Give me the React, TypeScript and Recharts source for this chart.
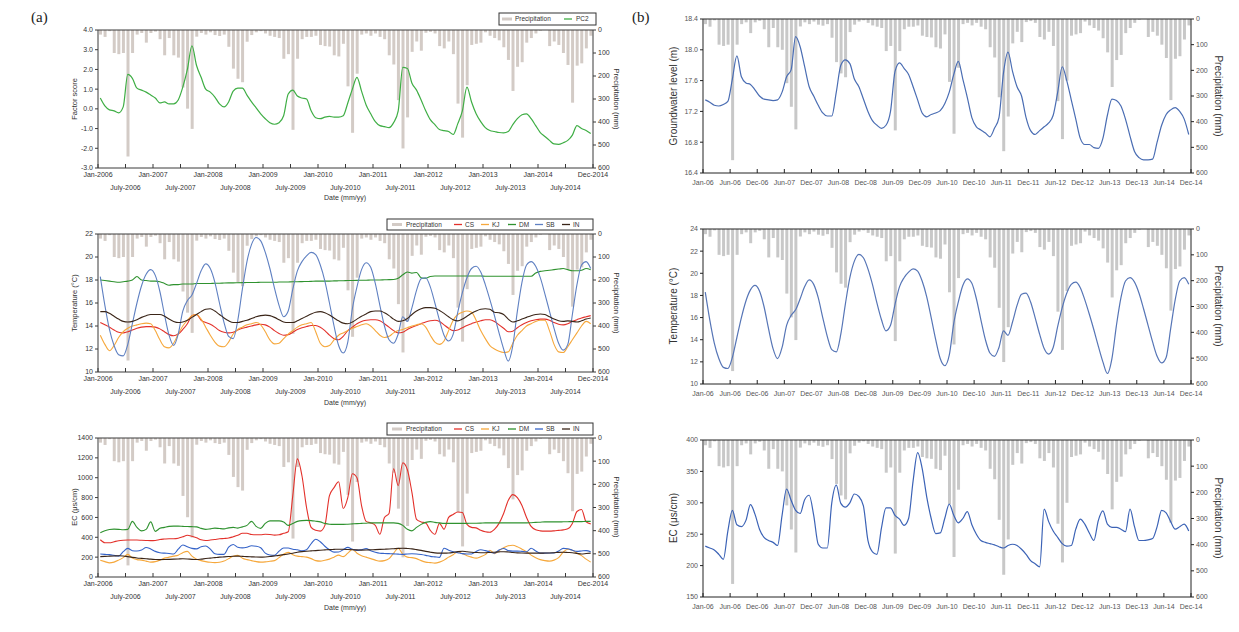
import React from 'react'
import { ComposedChart, Bar, Line, XAxis, YAxis, ReferenceLine } from 'recharts'

// monthly values, Jan 2006 .. Dec 2014 (one row per year)
const precipitation = [
  20, 30, 5, 100, 105, 100, 550, 100, 20, 13, 55, 13,
  7, 40, 110, 35, 110, 120, 250, 342, 430, 29, 13, 20,
  10, 22, 26, 20, 73, 168, 212, 227, 51, 22, 10, 5,
  15, 25, 30, 35, 125, 105, 434, 125, 40, 30, 30, 25,
  65, 70, 72, 110, 115, 60, 245, 447, 190, 20, 15, 25,
  15, 30, 40, 110, 150, 305, 515, 380, 95, 50, 90, 12,
  8, 15, 70, 80, 50, 105, 320, 468, 240, 65, 60, 55,
  10, 25, 35, 45, 75, 130, 265, 160, 140, 55, 35, 15,
  3, 0, 70, 50, 65, 100, 152, 316, 155, 145, 80, 25,
]

const pc2 = [
  0.55, 0.15, -0.05, -0.1, -0.2, 0.1, 1.75, 1.55, 1.05, 0.95, 0.85, 0.7,
  0.55, 0.3, 0.35, 0.25, 0.25, 0.45, 1.1, 2.0, 3.2, 2.2, 1.6, 1.0,
  0.85, 0.6, 0.25, 0.1, 0.35, 0.9, 1.05, 1.05, 0.7, 0.35, 0.05, -0.25,
  -0.5, -0.7, -0.78, -0.7, -0.35, 0.75, 0.95, 0.65, 0.55, 0.5, -0.1, -0.45,
  -0.5, -0.42, -0.38, -0.42, -0.42, -0.35, 0.3, 1.0, 1.6, 0.9, 0.2, -0.25,
  -0.65, -0.85, -0.9, -0.95, -0.7, -0.1, 2.1, 2.05, 1.3, 0.95, 0.45, -0.1,
  -0.55, -0.8, -1.05, -1.1, -1.15, -1.3, -0.75, -0.1, 1.1, 0.35, -0.25, -0.65,
  -0.95, -1.1, -1.15, -1.2, -1.22, -1.15, -0.8, -0.5, -0.3, -0.25, -0.5, -0.85,
  -1.2, -1.4, -1.6, -1.78, -1.8, -1.72, -1.6, -1.33, -0.85, -1.0, -1.1, -1.25,
]

const tempCS = [
  14.3, 14.1, 13.9, 13.65, 13.45, 13.4, 13.5, 13.65, 13.8, 13.9, 13.95, 13.95,
  13.9, 13.75, 13.5, 13.25, 13.15, 13.3, 13.7, 14.2, 14.9, 15.0, 14.5, 14.3,
  14.15, 13.9, 13.6, 13.45, 13.4, 13.45, 13.65, 13.8, 13.9, 14.0, 14.1, 14.15,
  14.1, 13.9, 13.6, 13.35, 13.2, 13.25, 13.45, 13.7, 13.85, 13.95, 14.05, 14.05,
  13.9, 13.6, 13.2, 12.9, 12.8, 13.1, 13.6, 13.9, 14.2, 14.4, 14.5, 14.55,
  14.55, 14.45, 14.2, 13.9, 13.6, 13.4, 13.45, 13.7, 13.9, 14.05, 14.2, 14.35,
  14.45, 14.5, 14.4, 14.1, 13.8, 13.6, 13.65, 13.85, 14.05, 14.2, 14.35, 14.45,
  14.55, 14.55, 14.4, 14.1, 13.8, 13.5, 13.55, 13.85, 14.1, 14.3, 14.45, 14.55,
  14.6, 14.6, 14.5, 14.3, 14.15, 14.1, 14.2, 14.4, 14.55, 14.7, 14.8, 14.9,
]

const tempKJ = [
  13.2, 12.4, 11.85, 12.3, 13.0, 13.5, 13.8, 14.0, 14.1, 14.2, 14.25, 14.2,
  13.6, 12.8, 12.2, 12.1, 12.5, 13.3, 14.0, 14.5, 14.9, 15.0, 14.6, 13.9,
  13.2, 12.6, 12.25, 12.2, 12.6, 13.3, 13.7, 13.9, 14.1, 14.2, 14.3, 14.1,
  13.5, 12.8, 12.45, 12.5, 12.9, 13.3, 13.6, 13.9, 14.1, 14.2, 14.3, 13.5,
  12.5, 12.2, 12.3, 12.8, 13.2, 13.4, 13.6, 13.8, 13.95, 14.1, 14.2, 14.0,
  13.6, 13.2, 13.0, 13.1, 13.4, 13.6, 13.7, 13.85, 14.0, 14.1, 14.2, 13.9,
  13.2, 12.6, 12.4, 12.7, 13.6, 14.5, 15.0, 15.2, 15.3, 15.2, 14.5, 13.6,
  12.9, 12.3, 12.0, 11.8, 11.7, 11.75, 12.5, 13.2, 13.6, 14.0, 14.2, 14.4,
  14.5, 14.5, 13.6, 12.4, 11.75, 11.7, 12.2, 12.8, 13.4, 14.0, 14.4, 14.2,
]

const tempDM = [
  18.0, 17.95, 17.9, 17.85, 17.8, 17.85, 17.9, 18.0, 18.3, 18.0, 17.95, 17.9,
  17.9, 17.85, 17.7, 17.55, 17.6, 17.6, 17.65, 17.65, 17.65, 17.7, 17.7, 17.7,
  17.7, 17.72, 17.72, 17.74, 17.75, 17.75, 17.76, 17.77, 17.78, 17.78, 17.78, 17.8,
  17.8, 17.8, 17.8, 17.82, 17.82, 17.83, 17.85, 17.85, 17.86, 17.87, 17.88, 17.9,
  17.9, 17.9, 17.9, 17.92, 17.93, 17.94, 17.95, 17.96, 17.97, 17.98, 17.98, 18.0,
  18.0, 18.0, 18.02, 18.03, 18.05, 18.15, 18.45, 18.7, 18.6, 18.65, 18.2, 18.15,
  18.3, 18.35, 18.35, 18.35, 18.35, 18.35, 18.35, 18.35, 18.35, 18.35, 18.35, 18.35,
  18.33, 18.33, 18.33, 18.33, 18.33, 18.33, 18.33, 18.33, 18.33, 18.33, 18.33, 18.6,
  18.75, 18.8, 18.85, 18.9, 18.95, 19.0, 18.9, 18.8, 18.8, 18.85, 19.0, 18.9,
]

const tempSB = [
  18.3, 15.8, 13.7, 12.3, 11.5, 11.4, 12.4, 14.2, 16.0, 17.5, 18.5, 18.9,
  18.4, 17.0, 15.0, 13.2, 12.3, 13.3, 15.3, 16.2, 16.7, 17.7, 18.8, 19.4,
  19.0, 17.8, 16.0, 14.3, 13.1, 12.9, 14.5, 17.2, 19.6, 21.1, 21.7, 21.4,
  20.4, 19.0, 17.3, 15.8, 14.8, 15.3, 17.2, 18.8, 19.6, 20.1, 20.4, 20.2,
  19.3, 17.9, 16.0, 14.0, 12.3, 11.65, 12.6, 15.5, 17.4, 18.9, 19.5, 19.1,
  17.7, 15.8, 14.0, 12.8, 12.5, 13.3, 14.8, 14.4, 15.6, 17.1, 18.1, 18.2,
  17.4, 16.0, 14.5, 13.2, 12.7, 13.3, 15.2, 16.9, 18.2, 19.0, 19.2, 18.7,
  17.6, 16.3, 14.9, 13.4, 12.0, 10.95, 12.3, 15.3, 17.8, 19.3, 19.6, 19.2,
  18.2, 16.8, 15.3, 13.8, 12.5, 11.9, 12.4, 15.0, 17.6, 19.3, 19.6, 19.0,
]

const tempIN = [
  15.25, 15.25, 15.1, 14.85, 14.6, 14.4, 14.35, 14.4, 14.55, 14.75, 14.9, 15.0,
  15.0, 15.0, 14.85, 14.6, 14.4, 14.3, 14.35, 14.5, 14.75, 15.0, 15.25, 15.45,
  15.5, 15.3, 15.0, 14.7, 14.45, 14.3, 14.3, 14.4, 14.5, 14.65, 14.8, 14.9,
  14.95, 14.9, 14.75, 14.55, 14.35, 14.3, 14.3, 14.45, 14.65, 14.85, 15.05, 15.2,
  15.25, 15.15, 14.95, 14.7, 14.45, 14.25, 14.2, 14.35, 14.6, 14.85, 15.05, 15.25,
  15.3, 15.3, 15.15, 14.9, 14.6, 14.4, 14.45, 14.65, 15.0, 15.3, 15.5, 15.6,
  15.6, 15.55, 15.35, 15.1, 14.8, 14.55, 14.45, 14.6, 14.85, 15.1, 15.3, 15.45,
  15.5, 15.45, 15.2, 15.15, 15.0, 14.6, 14.35, 14.45, 14.6, 14.75, 14.9, 15.0,
  15.05, 15.0, 14.8, 14.6, 14.45, 14.4, 14.45, 14.4, 14.35, 14.45, 14.6, 14.7,
]

const ecCS = [
  375, 345, 345, 355, 365, 370, 372, 372, 372, 370, 368, 366,
  368, 378, 382, 385, 385, 390, 405, 420, 410, 395, 375, 368,
  372, 378, 385, 388, 392, 405, 420, 440, 440, 428, 425, 425,
  430, 428, 422, 425, 440, 455, 820, 1190, 1020, 700, 500, 470,
  462, 520, 820, 900, 960, 690, 800, 1040, 1000, 720, 560, 545,
  520, 430, 600, 640, 1090, 920, 1150, 1080, 850, 580, 555, 545,
  470, 430, 540, 480, 600, 630, 655, 650, 530, 500, 495, 470,
  455, 450, 480, 540, 640, 770, 830, 800, 720, 600, 510, 475,
  465, 462, 462, 465, 470, 475, 485, 540, 660, 680, 555, 535,
]

const ecKJ = [
  168, 155, 142, 150, 170, 195, 228, 190, 175, 170, 160, 150,
  155, 170, 190, 200, 210, 220, 245, 258, 210, 180, 165, 155,
  148, 145, 148, 160, 185, 208, 218, 190, 175, 165, 155, 150,
  152, 158, 165, 195, 230, 248, 225, 210, 205, 200, 185, 165,
  160, 168, 180, 200, 220, 205, 240, 278, 240, 215, 200, 185,
  170, 160, 165, 185, 240, 290, 230, 200, 195, 185, 165, 150,
  145, 140, 150, 170, 200, 225, 255, 235, 215, 200, 190, 205,
  225, 270, 235, 265, 295, 315, 320, 305, 280, 255, 220, 195,
  175, 165, 160, 170, 195, 250, 280, 270, 240, 215, 180, 150,
]

const ecDM = [
  445, 465, 478, 482, 480, 476, 480, 560, 500, 465, 480, 555,
  460, 490, 500, 510, 512, 512, 510, 508, 507, 505, 490, 480,
  485, 492, 488, 485, 495, 500, 492, 505, 520, 560, 510, 490,
  540, 565, 565, 565, 555, 520, 540, 560, 568, 570, 568, 562,
  555, 540, 532, 530, 530, 530, 532, 535, 538, 540, 542, 545,
  545, 545, 545, 545, 545, 540, 520, 480, 465, 500, 530, 550,
  558, 550, 545, 540, 540, 540, 540, 540, 540, 542, 542, 543,
  545, 545, 545, 545, 545, 545, 545, 545, 545, 545, 547, 550,
  552, 555, 555, 555, 555, 556, 557, 558, 558, 558, 560, 560,
]

const ecSB = [
  231, 228, 225, 218, 210, 255, 288, 265, 262, 272, 297, 282,
  258, 245, 240, 237, 232, 280, 322, 304, 288, 283, 305, 312,
  280, 234, 228, 228, 300, 328, 299, 293, 300, 314, 310, 295,
  240, 222, 218, 260, 292, 292, 280, 274, 264, 275, 335, 380,
  355, 310, 275, 251, 252, 275, 298, 280, 268, 275, 286, 265,
  250, 240, 237, 235, 233, 230, 228, 232, 234, 232, 226, 218,
  208, 203, 198, 290, 270, 255, 245, 235, 231, 232, 258, 274,
  266, 252, 240, 272, 287, 266, 261, 261, 258, 254, 290, 262,
  240, 240, 241, 243, 262, 288, 284, 270, 258, 262, 266, 255,
]

const ecIN = [
  205, 208, 210, 212, 214, 212, 205, 198, 192, 188, 184, 180,
  177, 175, 176, 178, 180, 182, 184, 182, 178, 176, 180, 186,
  190, 195, 200, 203, 206, 209, 210, 208, 205, 203, 201, 200,
  202, 206, 212, 218, 225, 232, 240, 250, 256, 260, 263, 266,
  270, 273, 276, 278, 280, 279, 277, 275, 273, 271, 272, 274,
  276, 278, 280, 282, 285, 288, 290, 287, 283, 276, 268, 258,
  250, 243, 240, 240, 242, 248, 256, 260, 254, 250, 247, 245,
  245, 247, 250, 253, 255, 252, 247, 243, 241, 240, 240, 240,
  240, 241, 242, 244, 248, 250, 247, 244, 238, 232, 236, 240,
]

const gwLevel = [
  17.35, 17.32, 17.28, 17.27, 17.29, 17.33, 17.62, 17.92, 17.65, 17.57, 17.55, 17.48,
  17.4, 17.36, 17.35, 17.34, 17.35, 17.45, 17.65, 17.74, 18.17, 18.04, 17.78, 17.52,
  17.4, 17.28, 17.18, 17.14, 17.14, 17.45, 17.8, 17.87, 17.82, 17.62, 17.52, 17.36,
  17.2, 17.08, 17.02, 16.98, 17.02, 17.2, 17.72, 17.83, 17.76, 17.68, 17.52, 17.35,
  17.18, 17.13, 17.16, 17.18, 17.21, 17.3, 17.45, 17.68, 17.85, 17.62, 17.38, 17.12,
  17.0, 16.96, 16.92, 16.87, 16.98, 17.12, 17.7, 17.97, 17.72, 17.52, 17.4, 17.12,
  16.95, 16.9, 16.95, 17.0, 17.05, 17.15, 17.45, 17.78, 17.6, 17.35, 17.1, 16.85,
  16.77, 16.77, 16.73, 16.72, 16.85, 17.15, 17.36, 17.34, 17.27, 17.1, 16.88, 16.68,
  16.6, 16.57, 16.57, 16.58, 16.8, 17.02, 17.16, 17.22, 17.25, 17.2, 17.1, 16.9,
]

const xTicks = [0, 6, 12, 18, 24, 30, 36, 42, 48, 54, 60, 66, 72, 78, 84, 90, 96, 102, 108]
const aTickLabels = [
  'Jan-2006', 'July-2006', 'Jan-2007', 'July-2007', 'Jan-2008', 'July-2008', 'Jan-2009',
  'July-2009', 'Jan-2010', 'July-2010', 'Jan-2011', 'July-2011', 'Jan-2012', 'July-2012',
  'Jan-2013', 'July-2013', 'Jan-2014', 'July-2014', 'Dec-2014',
]
const bTickLabels = [
  'Jan-06', 'Jun-06', 'Dec-06', 'Jun-07', 'Dec-07', 'Jun-08', 'Dec-08', 'Jun-09', 'Dec-09',
  'Jun-10', 'Dec-10', 'Jun-11', 'Dec-11', 'Jun-12', 'Dec-12', 'Jun-13', 'Dec-13', 'Jun-14', 'Dec-14',
]
const precipTicks = [0, 100, 200, 300, 400, 500, 600]

const rows = precipitation.map((p, i) => ({
  t: i + 0.5,
  p,
  pc2: pc2[i],
  tCS: tempCS[i],
  tKJ: tempKJ[i],
  tDM: tempDM[i],
  tSB: tempSB[i],
  tIN: tempIN[i],
  eCS: ecCS[i],
  eKJ: ecKJ[i],
  eDM: ecDM[i],
  eSB: ecSB[i],
  eIN: ecIN[i],
  gw: gwLevel[i],
}))

const FONT = '"Liberation Sans", Arial, sans-serif'
const WL = 40
const WR = 40
const HX = 36
const MT = 4

type LineSpec = { key: string; color: string; width?: number }
type PanelSpec = {
  x0: number
  x1: number
  y0: number
  y1: number
  domain: [number, number]
  ticks: number[]
  fmt?: (v: number) => string
  lines: LineSpec[]
  kind: 'a' | 'b'
}

function Panel({ spec }: { spec: PanelSpec }) {
  const { x0, x1, y0, y1, kind } = spec
  const w = x1 - x0 + WL + WR
  const h = y1 - y0 + MT + HX
  const axisColor = kind === 'a' ? '#3a3a3a' : '#222'
  const tickColor = kind === 'a' ? '#333' : '#555'
  const labels = kind === 'a' ? aTickLabels : bTickLabels
  const barFill = kind === 'a' ? '#d3cbc6' : '#c8c8c8'

  const renderXTick = (props: any) => {
    const { x, y, payload } = props
    const label = labels[xTicks.indexOf(payload.value)]
    const dy = kind === 'a' ? (label.startsWith('July') ? 22 : 9) : 12
    return (
      <g>
        <line x1={x} x2={x} y1={y} y2={y - 4} stroke={axisColor} />
        <text x={x} y={y + dy} textAnchor="middle" fontSize={7} fill={tickColor} fontFamily={FONT}>
          {label}
        </text>
      </g>
    )
  }

  return (
    <div style={{ position: 'absolute', left: x0 - WL, top: y0 - MT }}>
      <ComposedChart width={w} height={h} data={rows} margin={{ top: MT, right: 0, bottom: 0, left: 0 }}>
        <XAxis
          dataKey="t"
          type="number"
          domain={[0, 108]}
          ticks={xTicks}
          interval={0}
          height={HX}
          tickSize={0}
          tickMargin={0}
          tickLine={false}
          axisLine={{ stroke: axisColor }}
          tick={renderXTick}
        />
        <YAxis
          yAxisId="v"
          width={WL}
          domain={spec.domain}
          ticks={spec.ticks}
          interval={0}
          allowDataOverflow
          tickFormatter={spec.fmt}
          tickSize={3}
          tickMargin={2}
          axisLine={{ stroke: axisColor }}
          tickLine={{ stroke: axisColor }}
          tick={{ fontSize: 7, fill: tickColor, fontFamily: FONT }}
        />
        <YAxis
          yAxisId="p"
          orientation="right"
          width={WR}
          reversed
          domain={[0, 600]}
          ticks={precipTicks}
          interval={0}
          tickSize={3}
          tickMargin={2}
          axisLine={{ stroke: axisColor }}
          tickLine={{ stroke: axisColor }}
          tick={{ fontSize: 7, fill: tickColor, fontFamily: FONT }}
        />
        <ReferenceLine yAxisId="p" y={0} stroke={axisColor} />
        <Bar yAxisId="p" dataKey="p" fill={barFill} barSize={3} isAnimationActive={false} />
        {spec.lines.map((l) => (
          <Line
            key={l.key}
            yAxisId="v"
            dataKey={l.key}
            type="monotone"
            stroke={l.color}
            strokeWidth={l.width ?? 1.1}
            dot={false}
            activeDot={false}
            isAnimationActive={false}
          />
        ))}
      </ComposedChart>
    </div>
  )
}

const fmt1 = (v: number) => v.toFixed(1)

const siteLines = (prefix: string, sb: string): LineSpec[] => [
  { key: prefix + 'CS', color: '#e3312b' },
  { key: prefix + 'KJ', color: '#f6a83c' },
  { key: prefix + 'DM', color: '#2f922f' },
  { key: prefix + 'SB', color: sb },
  { key: prefix + 'IN', color: '#3a2518' },
]

const panels: PanelSpec[] = [
  { kind: 'a', x0: 98, x1: 593, y0: 30, y1: 168, domain: [-3, 4], ticks: [-3, -2, -1, 0, 1, 2, 3, 4], fmt: fmt1, lines: [{ key: 'pc2', color: '#3fae45', width: 1.2 }] },
  { kind: 'a', x0: 98, x1: 593, y0: 234, y1: 372, domain: [10, 22], ticks: [10, 12, 14, 16, 18, 20, 22], lines: siteLines('t', '#5f80c2') },
  { kind: 'a', x0: 98, x1: 593, y0: 438, y1: 577, domain: [0, 1400], ticks: [0, 200, 400, 600, 800, 1000, 1200, 1400], lines: siteLines('e', '#3563c8') },
  { kind: 'b', x0: 703, x1: 1191, y0: 19, y1: 173, domain: [16.4, 18.4], ticks: [16.4, 16.8, 17.2, 17.6, 18.0, 18.4], fmt: fmt1, lines: [{ key: 'gw', color: '#4a6db3', width: 1.2 }] },
  { kind: 'b', x0: 703, x1: 1191, y0: 229, y1: 384, domain: [10, 24], ticks: [10, 12, 14, 16, 18, 20, 22, 24], lines: [{ key: 'tSB', color: '#5675b6', width: 1.2 }] },
  { kind: 'b', x0: 703, x1: 1191, y0: 440, y1: 597, domain: [150, 400], ticks: [150, 200, 250, 300, 350, 400], lines: [{ key: 'eSB', color: '#3c63b6', width: 1.2 }] },
]

type LegendItem = { label: string; color: string; bar?: boolean; sx: number; tx: number }

function Legend({ x, y, w, h, items }: { x: number; y: number; w: number; h: number; items: LegendItem[] }) {
  const cy = y + h / 2
  return (
    <g>
      <rect x={x} y={y} width={w} height={h} fill="#fff" stroke="#333" strokeWidth={1} />
      {items.map((it) => (
        <g key={it.label}>
          <line x1={it.sx} x2={it.sx + (it.bar ? 10 : 8)} y1={cy} y2={cy} stroke={it.color} strokeWidth={it.bar ? 3 : 1.3} />
          <text x={it.tx} y={cy + 2.4} fontSize={6.5} fill="#333" fontFamily={FONT}>
            {it.label}
          </text>
        </g>
      ))}
    </g>
  )
}

const siteLegend = (sb: string): LegendItem[] => [
  { label: 'Precipitation', color: '#d3cbc6', bar: true, sx: 392, tx: 406 },
  { label: 'CS', color: '#e3312b', sx: 454, tx: 465 },
  { label: 'KJ', color: '#f6a83c', sx: 481, tx: 492 },
  { label: 'DM', color: '#2f922f', sx: 508, tx: 519 },
  { label: 'SB', color: sb, sx: 535, tx: 546 },
  { label: 'IN', color: '#3a2518', sx: 562, tx: 573 },
]

function Annotations() {
  const vText = (label: string, x: number, y: number, angle: number, size: number) => (
    <text
      x={x}
      y={y}
      transform={`rotate(${angle} ${x} ${y})`}
      textAnchor="middle"
      dominantBaseline="central"
      fontSize={size}
      fill="#333"
      fontFamily={FONT}
    >
      {label}
    </text>
  )
  return (
    <svg width={1239} height={632} style={{ position: 'absolute', left: 0, top: 0, pointerEvents: 'none' }}>
      <text x={31} y={22} fontSize={15} fontFamily='"Liberation Serif", serif' fill="#222">(a)</text>
      <text x={632} y={22} fontSize={15} fontFamily='"Liberation Serif", serif' fill="#222">(b)</text>

      {vText('Factor score', 74, 99, -90, 7.5)}
      {vText('Temperature (°C)', 74, 303, -90, 7.5)}
      {vText('EC (μs/cm)', 74, 507, -90, 7.5)}
      {vText('Precipitation (mm)', 616, 99, 90, 7.5)}
      {vText('Precipitation (mm)', 616, 303, 90, 7.5)}
      {vText('Precipitation (mm)', 616, 507, 90, 7.5)}
      <text x={345} y={200} textAnchor="middle" fontSize={7} fill="#333" fontFamily={FONT}>Date (mm/yy)</text>
      <text x={345} y={405} textAnchor="middle" fontSize={7} fill="#333" fontFamily={FONT}>Date (mm/yy)</text>
      <text x={345} y={610} textAnchor="middle" fontSize={7} fill="#333" fontFamily={FONT}>Date (mm/yy)</text>

      {vText('Groundwater level (m)', 673, 96, -90, 10)}
      {vText('Temperature (°C)', 673, 306, -90, 10)}
      {vText('EC (μs/cm)', 673, 518, -90, 10)}
      {vText('Precipitation (mm)', 1218, 96, 90, 10)}
      {vText('Precipitation (mm)', 1218, 306, 90, 10)}
      {vText('Precipitation (mm)', 1218, 518, 90, 10)}

      <Legend
        x={499}
        y={13}
        w={97}
        h={12}
        items={[
          { label: 'Precipitation', color: '#d3cbc6', bar: true, sx: 502, tx: 515 },
          { label: 'PC2', color: '#3fae45', sx: 564, tx: 576 },
        ]}
      />
      <Legend x={387} y={219} w={206} h={11} items={siteLegend('#5f80c2')} />
      <Legend x={387} y={423} w={206} h={12} items={siteLegend('#3563c8')} />
    </svg>
  )
}

export default function App() {
  return (
    <div style={{ position: 'absolute', left: 0, top: 0, width: 1239, height: 632, background: '#fff', fontFamily: FONT }}>
      {panels.map((s, i) => (
        <Panel key={i} spec={s} />
      ))}
      <Annotations />
    </div>
  )
}
